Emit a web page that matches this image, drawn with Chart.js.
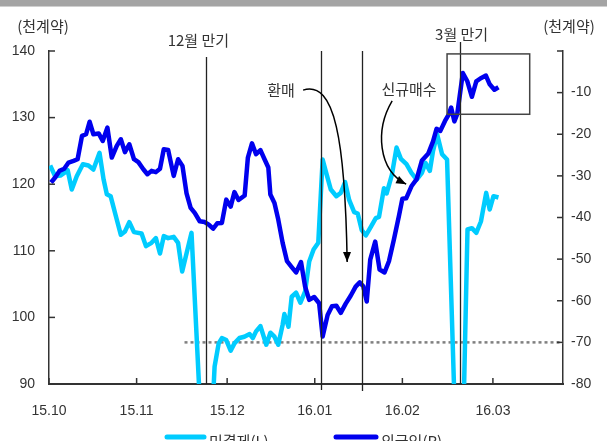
<!DOCTYPE html>
<html><head><meta charset="utf-8">
<script src="https://cdn.jsdelivr.net/npm/chart.js@4.4.1/dist/chart.umd.min.js"></script>
<style>
html,body{margin:0;padding:0;background:#fff;overflow:hidden;width:607px;height:441px}
#wrap{position:relative;width:607px;height:452px}
</style></head>
<body><div id="wrap"><canvas id="c" width="607" height="452"></canvas></div>
<script>
// x axis: day index from 15.10 start
const monthTicks  = [0, 30, 61, 91, 121, 152];
const monthLabels = ['15.10','15.11','15.12','16.01','16.02','16.03'];
const seriesNames = ['미결제(L)', '외국인(R)'];

// 미결제 (left axis, 천계약)
const oiDays = [0.4,2.1,3.9,5.6,6.4,7.8,9.5,11.6,13.5,15.2,
  17.3,18.7,19.8,21.1,23.2,24.6,26.0,27.5,29.1,31.7,
  33.2,35.1,36.6,38.0,39.3,40.8,42.7,44.2,45.6,48.8,
  53.9,56.7,58.1,59.2,60.7,62.2,63.5,65.2,66.9,68.7,
  69.8,70.9,72.4,74.4,75.8,77.2,78.5,80.0,80.6,82.0,
  83.1,84.6,86.1,87.7,89.1,90.6,92.2,93.7,94.8,96.5,
  98.4,99.9,101.4,102.8,104.5,105.7,107.1,108.5,110.2,111.9,
  113.0,114.7,115.6,117.4,119.0,120.5,122.4,124.1,125.9,127.7,
  128.9,130.4,131.5,132.9,134.6,136.3,140.7,143.3,144.8,146.3,
  147.9,149.7,150.9,152.2,153.9];
const oiValues = [122.8,121.2,121.3,121.8,122.1,119.2,121.2,123.0,122.8,122.2,
  124.7,120.7,118.5,118.2,114.7,112.4,112.9,114.3,112.8,112.6,
  110.7,111.2,111.9,109.6,112.2,111.9,112.1,111.2,106.9,112.7,
  67.3,92.6,96.1,96.9,96.6,95.0,96.1,96.9,97.1,97.5,
  96.9,97.9,98.7,95.9,97.7,97.1,95.9,98.9,100.5,98.6,
  103.1,103.7,102.2,103.9,108.4,110.2,111.2,123.7,121.9,119.2,
  118.2,118.7,120.3,117.6,115.8,115.6,113.1,112.3,113.6,114.9,
  115.1,119.4,118.6,121.4,125.5,123.8,123.0,121.7,120.7,121.7,
  123.2,122.0,125.0,127.5,124.5,123.7,60.9,113.2,113.4,112.7,
  114.4,118.7,116.2,118.2,118.0];

// 외국인 (right axis, 천계약)
const frDays = [0.7,2.1,3.6,5.2,6.7,8.4,9.8,11.3,12.7,13.9,
  15.2,17.0,18.4,20.0,21.5,23.2,24.6,26.0,27.5,29.1,
  30.6,32.3,33.7,35.1,36.6,38.0,39.3,40.8,42.7,44.2,
  45.7,47.1,48.5,49.9,51.6,53.3,54.7,56.2,57.6,59.2,
  60.7,62.2,63.5,64.9,67.0,68.1,69.5,70.9,72.4,73.8,
  75.1,75.8,77.2,78.5,80.0,81.5,83.1,84.6,86.3,87.7,
  89.1,90.8,92.5,93.7,95.4,96.9,98.4,99.9,101.6,103.3,
  105.0,106.4,107.6,108.8,110.0,111.7,113.2,114.9,116.4,118.1,
  119.8,121.0,122.3,124.1,125.9,127.7,129.9,131.5,132.7,134.0,
  135.6,136.9,137.7,138.8,139.8,141.7,143.2,144.8,146.3,147.7,
  149.6,150.9,152.5,153.9];
const frValues = [-31.6,-30.4,-28.8,-28.3,-26.8,-26.4,-26.0,-20.4,-20.0,-17.0,
  -20.0,-19.8,-21.6,-18.4,-25.6,-22.8,-21.2,-24.3,-22.4,-26.0,
  -26.7,-28.4,-29.6,-28.8,-29.1,-28.3,-23.6,-23.8,-30.0,-26.0,
  -27.6,-34.2,-37.7,-38.9,-40.9,-41.1,-41.7,-42.7,-41.4,-41.3,
  -35.7,-37.4,-33.9,-35.8,-34.7,-25.6,-22.2,-24.8,-23.8,-26.0,
  -28.0,-34.5,-36.5,-40.5,-46.1,-50.5,-51.9,-53.2,-50.7,-56.6,
  -59.8,-59.1,-60.6,-68.6,-63.4,-61.3,-61.2,-62.9,-60.7,-58.8,
  -56.6,-55.6,-56.5,-60.2,-50.1,-45.8,-52.5,-53.2,-50.5,-45.3,
  -39.7,-35.5,-35.4,-32.5,-30.8,-26.3,-24.6,-21.7,-18.7,-19.2,
  -16.8,-15.2,-13.6,-16.9,-15.1,-5.3,-7.2,-11.0,-7.3,-6.6,
  -5.9,-8.0,-9.3,-8.7];

// annotations (data coordinates: x = day, y = right axis)
const expiryDays = [53.9, 93.3, 107.2, 140.6];
const refLevel = -70, refStartDay = 46.4;
const boxRange = {x0:136.3, x1:164.6, y0:-15.2, y1:-0.7};
const arrowSell = [[87.0,-9.4],[97.9,-7.0],[101.4,-21.4],[102.1,-50.7]];
const arrowBuy  = [[117.5,-12.0],[111.6,-19.0],[112.7,-28.6],[122.3,-32.0]];

const KR = '"Noto Sans CJK KR", "Noto Sans", sans-serif';
const NUM = '"Liberation Sans", Arial, sans-serif';
const LIGHT = '#00CCFF', DARK = '#0000EE', AX = '#333333';

const annot = {
  id: 'annot',
  beforeDraw(chart) {
    const c = chart.ctx;
    c.save();
    c.fillStyle = '#ffffff'; c.fillRect(0,0,chart.width,chart.height);
    c.fillStyle = '#a4a4a4'; c.fillRect(0,0,chart.width,6);
    c.fillStyle = '#cfcfcf'; c.fillRect(0,6,chart.width,1);
    c.restore();
  },
  beforeDatasetsDraw(chart) {
    const c = chart.ctx, xs = chart.scales.x, y2 = chart.scales.y2, a = chart.chartArea;
    c.save();
    c.strokeStyle = '#808080'; c.lineWidth = 2.5; c.setLineDash([3,3]);
    const yy = y2.getPixelForValue(refLevel);
    c.beginPath(); c.moveTo(xs.getPixelForValue(refStartDay), yy); c.lineTo(a.right, yy); c.stroke();
    c.restore();
  },
  afterDatasetsDraw(chart) {
    const c = chart.ctx, xs = chart.scales.x, y = chart.scales.y, y2 = chart.scales.y2, a = chart.chartArea;
    const P = (p) => [xs.getPixelForValue(p[0]), y2.getPixelForValue(p[1])];
    c.save();
    // expiry / event lines
    const tops = [57, a.top, a.top, 42], bots = [a.bottom, a.bottom+6, a.bottom+7, a.bottom];
    c.strokeStyle = '#222'; c.lineWidth = 1.3;
    expiryDays.forEach((d,i) => {
      const x = Math.round(xs.getPixelForValue(d)) + 0.5;
      c.beginPath(); c.moveTo(x, tops[i]); c.lineTo(x, bots[i]); c.stroke();
    });
    // box
    c.strokeStyle = '#444'; c.lineWidth = 1.5;
    const bx0 = xs.getPixelForValue(boxRange.x0), bx1 = xs.getPixelForValue(boxRange.x1);
    const by0 = y2.getPixelForValue(boxRange.y1), by1 = y2.getPixelForValue(boxRange.y0);
    c.strokeRect(bx0, by0, bx1-bx0, by1-by0);
    // curved arrows
    const drawArrow = (pts) => {
      const [p0,p1,p2,p3] = pts.map(P);
      c.strokeStyle = '#000'; c.lineWidth = 1.5;
      c.beginPath(); c.moveTo(p0[0],p0[1]);
      c.bezierCurveTo(p1[0],p1[1],p2[0],p2[1],p3[0],p3[1]); c.stroke();
      const ang = Math.atan2(p3[1]-p2[1], p3[0]-p2[0]);
      const L = 10, W = 4;
      c.fillStyle = '#000'; c.beginPath();
      c.moveTo(p3[0], p3[1]);
      c.lineTo(p3[0]-L*Math.cos(ang)+W*Math.sin(ang), p3[1]-L*Math.sin(ang)-W*Math.cos(ang));
      c.lineTo(p3[0]-L*Math.cos(ang)-W*Math.sin(ang), p3[1]-L*Math.sin(ang)+W*Math.cos(ang));
      c.closePath(); c.fill();
    };
    drawArrow(arrowSell); drawArrow(arrowBuy);
    c.restore();
  },
  afterDraw(chart) {
    const c = chart.ctx, xs = chart.scales.x, y = chart.scales.y, y2 = chart.scales.y2, a = chart.chartArea;
    c.save();
    // inward tick marks
    c.strokeStyle = AX; c.lineWidth = 1.5;
    y.ticks.forEach(t => { const py = y.getPixelForValue(t.value); c.beginPath(); c.moveTo(a.left, py); c.lineTo(a.left+6, py); c.stroke(); });
    y2.ticks.forEach(t => { const py = y2.getPixelForValue(t.value); c.beginPath(); c.moveTo(a.right-6, py); c.lineTo(a.right, py); c.stroke(); });
    xs.ticks.forEach(t => { const px = xs.getPixelForValue(t.value); c.beginPath(); c.moveTo(px, a.bottom); c.lineTo(px, a.bottom-6); c.stroke(); });
    // texts
    c.fillStyle = '#333'; c.textBaseline = 'middle'; c.textAlign = 'center';
    c.font = '15px ' + KR;
    c.fillText('(천계약)', 43, 26);
    c.fillText('(천계약)', 569, 26);
    c.fillText('12월 만기', xs.getPixelForValue(expiryDays[0]) - 8, 40);
    c.fillText('3월 만기', xs.getPixelForValue(expiryDays[3]) + 2, 34);
    c.fillText('환매', 281, 90);
    c.fillText('신규매수', 409, 89);
    // legend
    const ds = chart.data.datasets;
    const items = [[167, 204, 209], [336, 376, 381]];
    ds.forEach((d,i) => {
      const [l0,l1,tx] = items[i];
      c.strokeStyle = d.borderColor; c.lineWidth = 5; c.lineCap = 'round';
      c.beginPath(); c.moveTo(l0, 437); c.lineTo(l1, 437); c.stroke();
      c.fillStyle = '#333'; c.textAlign = 'left'; c.font = '15px ' + KR;
      c.fillText(d.label, tx, 441);
    });
    c.restore();
  }
};

const tickFont = {family: NUM, size: 14};
new Chart(document.getElementById('c'), {
  type: 'line',
  data: { datasets: [
    { label: seriesNames[0], data: oiDays.map((d,i)=>({x:d, y:oiValues[i]})), yAxisID: 'y',
      borderColor: LIGHT, borderWidth: 4.5, pointRadius: 0, tension: 0, borderJoinStyle: 'round', order: 2 },
    { label: seriesNames[1], data: frDays.map((d,i)=>({x:d, y:frValues[i]})), yAxisID: 'y2',
      borderColor: DARK, borderWidth: 4.5, pointRadius: 0, tension: 0, borderJoinStyle: 'round', order: 1 }
  ]},
  options: {
    responsive: false, animation: false, devicePixelRatio: 1,
    layout: { padding: { top: 51, left: 0, right: 0, bottom: 0 } },
    plugins: { legend: { display: false }, tooltip: { enabled: false } },
    scales: {
      x: { type: 'linear', min: 0, max: 176,
        afterBuildTicks: s => { s.ticks = monthTicks.map(v => ({ value: v })); },
        ticks: { callback: v => { const i = monthTicks.indexOf(v); return i >= 0 ? monthLabels[i] : ''; },
          font: tickFont, color: '#333', padding: 19, maxRotation: 0, autoSkip: false },
        grid: { display: false, drawTicks: false },
        border: { display: true, color: AX, width: 2 },
        afterFit: s => { s.height = 68; } },
      y: { position: 'left', min: 90, max: 140,
        ticks: { stepSize: 10, font: tickFont, color: '#333', padding: 14 },
        grid: { display: false, drawTicks: false },
        border: { display: true, color: AX, width: 1.5 },
        afterFit: s => { s.width = 49; } },
      y2: { position: 'right', min: -80, max: 0,
        ticks: { stepSize: 10, font: tickFont, color: '#333', padding: 8,
          callback: v => v === 0 ? '' : String(v) },
        grid: { display: false, drawTicks: false },
        border: { display: true, color: AX, width: 1.5 },
        afterFit: s => { s.width = 44; } }
    }
  },
  plugins: [annot]
});
</script>
</body></html>
